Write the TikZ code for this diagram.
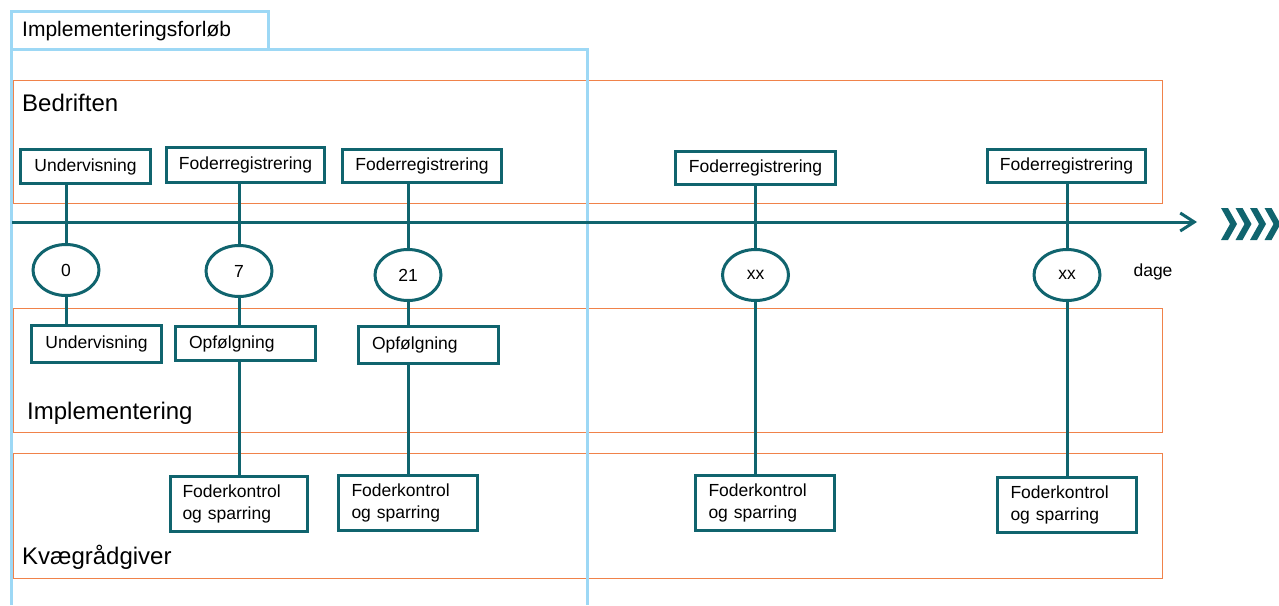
\documentclass[tikz,border=0pt]{standalone}
\usepackage{fontspec}
\setmainfont{Liberation Sans}
\usetikzlibrary{shapes.geometric,arrows.meta}
\definecolor{tealc}{HTML}{10646E}
\definecolor{orangec}{HTML}{F0824A}
\definecolor{bluec}{HTML}{9DD8F5}
\newcommand{\fsBox}{\fontsize{17.5}{22}\selectfont}
\newcommand{\fsBig}{\fontsize{24}{28}\selectfont}
\newcommand{\fsTab}{\fontsize{21}{25}\selectfont}
\newcommand{\fsCirc}{\fontsize{17.5}{20}\selectfont}
\tikzset{
  tb/.style={draw=tealc, line width=3pt, fill=white, inner sep=0pt, font=\fsBox},
  tbl/.style={tb, text width=113pt, align=left},
  circ/.style={ellipse, draw=tealc, line width=3pt, fill=white, inner sep=0pt,
    minimum width=66pt, minimum height=51pt, font=\fsCirc},
  conn/.style={draw=tealc, line width=3pt},
  lane/.style={draw=orangec, line width=1pt},
  frame/.style={draw=bluec, line width=3pt},
  lbl/.style={anchor=west, inner sep=0pt, font=\fsBig}
}
\begin{document}
\begin{tikzpicture}[x=1pt,y=-1pt]
\useasboundingbox (0,0) rectangle (1279,605);
% swimlanes
\draw[lane] (13,80) rectangle (1162,203);
\draw[lane] (13,308) rectangle (1162,432);
\draw[lane] (13,453) rectangle (1162,578);
% blue frame
\draw[frame] (11,49) -- (11,11) -- (268,11) -- (268,49);
\draw[frame] (11,605) -- (11,49) -- (587,49) -- (587,605);
\node[anchor=west, inner sep=0pt, font=\fsTab] (tab) at (22,31) {Implementeringsforløb};
% lane labels
\node[lbl] (bed) at (22,103) {Bedriften};
\node[lbl] (imp) at (27,413) {Implementering};
\node[lbl] (kvg) at (22,557) {Kvægrådgiver};
\node[inner sep=0pt, font=\fontsize{17.5}{21}\selectfont] (dage) at (1153,272) {dage};
% timeline
\coordinate (ts) at (12,222);
\coordinate (te) at (1197,222);
\draw[conn, -{Straight Barb[length=14pt,width=18pt,line width=3pt]}] (ts) -- (te);
% chevrons
\foreach \x in {1221,1235.5,1250,1264.5}
  \fill[tealc] (\x,208) -- ++(7,0) -- ++(9,16) -- ++(-9,16) -- ++(-7,0) -- ++(9,-16) -- cycle;
% top boxes
\node[tb, minimum width=130pt, minimum height=34pt] (u1) at (85.5,166.5) {Undervisning};
\node[tb, minimum width=158pt, minimum height=35pt] (f1) at (245.5,165) {Foderregistrering};
\node[tb, minimum width=159pt, minimum height=33pt] (f2) at (422,166) {Foderregistrering};
\node[tb, minimum width=160pt, minimum height=33pt] (f3) at (755.5,168) {Foderregistrering};
\node[tb, minimum width=158pt, minimum height=33pt] (f4) at (1066.5,166) {Foderregistrering};
% circles
\node[circ] (c0) at (66,270) {0};
\node[circ] (c7) at (239,271) {7};
\node[circ] (c21) at (408,275) {21};
\node[circ] (cx1) at (755.5,275) {xx};
\node[circ] (cx2) at (1067,275) {xx};
% lower boxes
\node[tb, minimum width=130pt, minimum height=37pt] (u2) at (96.5,344) {Undervisning};
\node[tbl, minimum width=140pt, minimum height=34pt] (o1) at (245.5,343.5) {Opfølgning};
\node[tbl, minimum width=140pt, minimum height=37pt] (o2) at (428.5,345) {Opfølgning};
\node[tbl, minimum width=137pt, minimum height=55pt] (k1) at (239,504) {Foderkontrol\\og sparring};
\node[tbl, minimum width=139pt, minimum height=55pt] (k2) at (408,503) {Foderkontrol\\og sparring};
\node[tbl, minimum width=139pt, minimum height=55pt] (k3) at (765,503) {Foderkontrol\\og sparring};
\node[tbl, minimum width=139pt, minimum height=55pt] (k4) at (1067,505) {Foderkontrol\\og sparring};
% connectors
\draw[conn] (u1.south -| c0.north) -- (c0.north);
\draw[conn] (c0.south) -- (c0.south |- u2.north);
\draw[conn] (f1.south -| c7.north) -- (c7.north);
\draw[conn] (c7.south) -- (c7.south |- o1.north);
\draw[conn] (o1.south -| k1.north) -- (k1.north);
\draw[conn] (f2.south -| c21.north) -- (c21.north);
\draw[conn] (c21.south) -- (c21.south |- o2.north);
\draw[conn] (o2.south -| k2.north) -- (k2.north);
\draw[conn] (f3.south -| cx1.north) -- (cx1.north);
\draw[conn] (cx1.south) -- (cx1.south |- k3.north);
\draw[conn] (f4.south -| cx2.north) -- (cx2.north);
\draw[conn] (cx2.south) -- (cx2.south |- k4.north);
\end{tikzpicture}
\end{document}
